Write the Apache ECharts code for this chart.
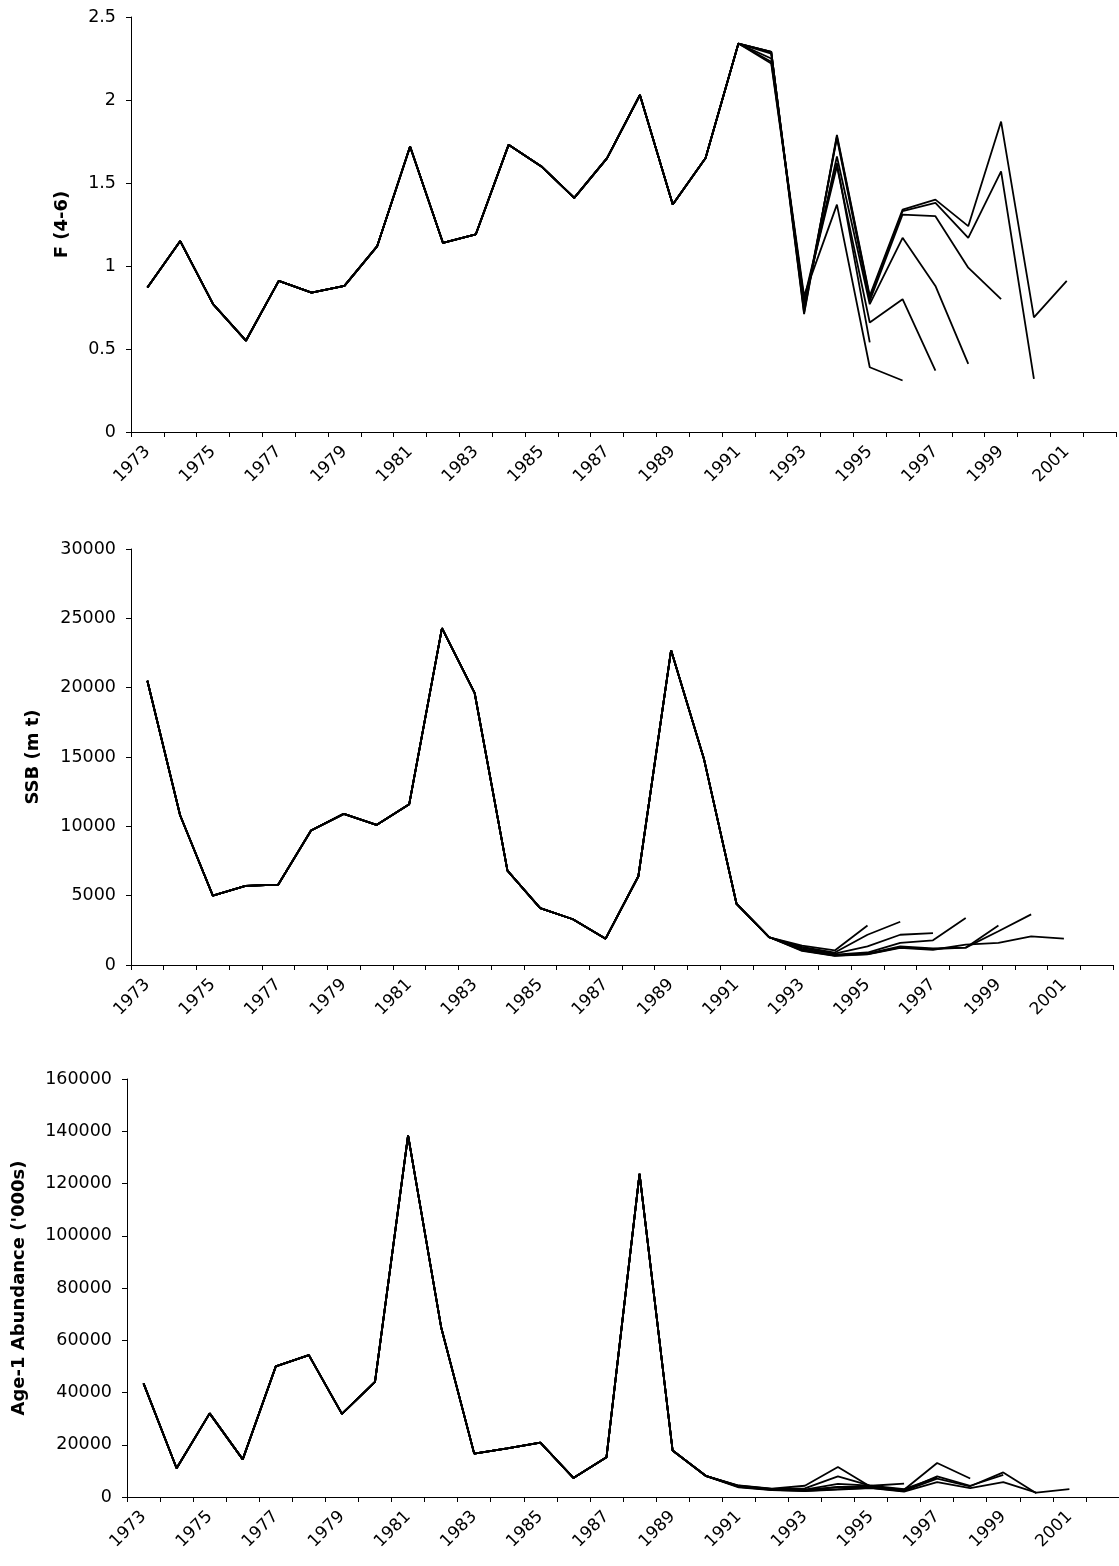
<!DOCTYPE html>
<html>
<head>
<meta charset="utf-8">
<title>Retrospective analysis: F, SSB and Age-1 abundance</title>
<script src="https://cdn.jsdelivr.net/npm/echarts@6/dist/echarts.min.js"></script>
<style>
  html, body { margin: 0; padding: 0; background: #fff; }
  #chart { width: 1119px; height: 1566px; }
</style>
</head>
<body>
<div id="chart"></div>
<script>
// Category axis: assessment years
const years = ['1973','1974','1975','1976','1977','1978','1979','1980','1981','1982',
               '1983','1984','1985','1986','1987','1988','1989','1990','1991','1992',
               '1993','1994','1995','1996','1997','1998','1999','2000','2001','2002'];

// Terminal year of each retrospective run
const runYears = [2001, 2000, 1999, 1998, 1997, 1996, 1995];

// Fishing mortality F (ages 4-6): shared history 1973-1991, then each run from 1992
const fCommon  = [0.87, 1.15, 0.77, 0.55, 0.91, 0.84, 0.88, 1.12, 1.72, 1.14,
                  1.19, 1.73, 1.60, 1.41, 1.65, 2.03, 1.37, 1.65, 2.34];
const fRun2001 = [2.29, 0.71, 1.79, 0.82, 1.34, 1.40, 1.24, 1.87, 0.69, 0.91];
const fRun2000 = [2.29, 0.72, 1.78, 0.81, 1.33, 1.38, 1.17, 1.57, 0.32];
const fRun1999 = [2.29, 0.74, 1.77, 0.79, 1.31, 1.30, 0.99, 0.80];
const fRun1998 = [2.28, 0.76, 1.66, 0.77, 1.17, 0.88, 0.41];
const fRun1997 = [2.25, 0.79, 1.60, 0.66, 0.80, 0.37];
const fRun1996 = [2.23, 0.82, 1.37, 0.39, 0.31];
const fRun1995 = [2.22, 0.80, 1.62, 0.54];

// Spawning stock biomass (mt): shared history 1973-1992, then each run from 1993
const ssbCommon  = [20500, 10800, 5000, 5700, 5800, 9700, 10900, 10100, 11600, 24300,
                    19600, 6800, 4100, 3300, 1900, 6400, 22700, 14900, 4400, 2000];
const ssbRun2001 = [1020, 660, 760, 1230, 1100, 1470, 1590, 2060, 1900];
const ssbRun2000 = [1060, 680, 780, 1280, 1150, 1250, 2430, 3650];
const ssbRun1999 = [1100, 700, 820, 1350, 1200, 1250, 2850];
const ssbRun1998 = [1150, 750, 900, 1590, 1780, 3390];
const ssbRun1997 = [1230, 820, 1350, 2180, 2300];
const ssbRun1996 = [1300, 900, 2180, 3120];
const ssbRun1995 = [1390, 1050, 2850];

// Age-1 abundance ('000s): shared history 1973-1990, then each run from 1991
const recCommon  = [43500, 11000, 32000, 14400, 50000, 54300, 31800, 44100, 138400, 65000,
                    16600, 18600, 20800, 7300, 15200, 123700, 17800, 8100];
const recRun2001 = [3700, 2600, 2300, 2800, 3400, 2100, 5700, 3400, 5700, 1700, 3000];
const recRun2000 = [3900, 2700, 2400, 3000, 3500, 2300, 7000, 4100, 9400, 1400];
const recRun1999 = [4000, 2800, 2500, 3800, 3800, 2500, 7900, 4300, 8500];
const recRun1998 = [4100, 2900, 2600, 3900, 4000, 2800, 13000, 7100];
const recRun1997 = [4200, 3000, 2800, 5000, 4300, 3000, 7500];
const recRun1996 = [4300, 3100, 3300, 7900, 4300, 5100];
const recRun1995 = [4400, 3200, 4300, 11500, 3800];

const fRuns   = [fRun2001, fRun2000, fRun1999, fRun1998, fRun1997, fRun1996, fRun1995];
const ssbRuns = [ssbRun2001, ssbRun2000, ssbRun1999, ssbRun1998, ssbRun1997, ssbRun1996, ssbRun1995];
const recRuns = [recRun2001, recRun2000, recRun1999, recRun1998, recRun1997, recRun1996, recRun1995];

const FONT = 'DejaVu Sans';
const INK = '#000';

function xAxisFor(idx) {
  return {
    type: 'category',
    gridIndex: idx,
    data: years,
    boundaryGap: true,
    axisLine: { lineStyle: { color: INK, width: 1 } },
    axisTick: { show: true, interval: 0, length: 5, lineStyle: { color: INK, width: 1 } },
    axisLabel: {
      interval: 1,
      rotate: 45,
      margin: 17,
      color: INK,
      fontFamily: FONT,
      fontSize: 17
    },
    splitLine: { show: false }
  };
}

function yAxisFor(idx, name, max, interval, nameGap) {
  return {
    type: 'value',
    gridIndex: idx,
    min: 0,
    max: max,
    interval: interval,
    name: name,
    nameLocation: 'middle',
    nameGap: nameGap,
    nameTextStyle: { color: INK, fontFamily: FONT, fontSize: 18, fontWeight: 'bold' },
    axisLine: { show: true, lineStyle: { color: INK, width: 1 } },
    axisTick: { show: true, length: 5, lineStyle: { color: INK, width: 1 } },
    axisLabel: {
      margin: 15,
      color: INK,
      fontFamily: FONT,
      fontSize: 17.5,
      formatter: function (v) { return String(v); }
    },
    splitLine: { show: false }
  };
}

function retroSeries(common, runs, idx) {
  return runs.map(function (tail, k) {
    return {
      type: 'line',
      name: 'Run ' + runYears[k],
      xAxisIndex: idx,
      yAxisIndex: idx,
      data: common.concat(tail),
      symbol: 'none',
      showSymbol: false,
      silent: true,
      lineStyle: { color: INK, width: 1.8 },
      emphasis: { disabled: true }
    };
  });
}

const chart = echarts.init(document.getElementById('chart'), null, { renderer: 'canvas' });

chart.setOption({
  backgroundColor: '#fff',
  animation: false,
  grid: [
    { left: 131, top: 17,   width: 985, height: 415 },
    { left: 131, top: 549,  width: 982, height: 416 },
    { left: 127, top: 1079, width: 992, height: 418 }
  ],
  xAxis: [xAxisFor(0), xAxisFor(1), xAxisFor(2)],
  yAxis: [
    yAxisFor(0, 'F (4-6)', 2.5, 0.5, 60),
    yAxisFor(1, 'SSB (m t)', 30000, 5000, 89),
    yAxisFor(2, "Age-1 Abundance ('000s)", 160000, 20000, 99)
  ],
  series: []
    .concat(retroSeries(fCommon, fRuns, 0))
    .concat(retroSeries(ssbCommon, ssbRuns, 1))
    .concat(retroSeries(recCommon, recRuns, 2))
});
</script>
</body>
</html>
